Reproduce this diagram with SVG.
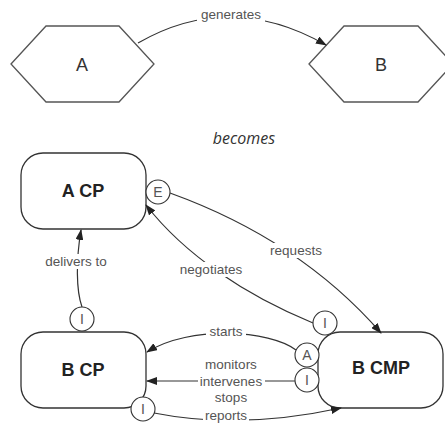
<svg xmlns="http://www.w3.org/2000/svg" width="445" height="423" viewBox="0 0 445 423">
<style>
.hex{fill:#fff;stroke:#555;stroke-width:1.3}
.box{fill:#fff;stroke:#333;stroke-width:1.3}
.conn{fill:none;stroke:#333;stroke-width:1.2}
.port{fill:#fff;stroke:#333;stroke-width:1.1}
.lbl{font-family:"Liberation Sans",Arial,sans-serif;font-size:13.5px;fill:#555;text-anchor:middle}
.plbl{font-family:"Liberation Sans",Arial,sans-serif;font-size:14px;fill:#555;text-anchor:middle}
.hlbl{font-family:"Liberation Sans",Arial,sans-serif;font-size:18px;fill:#333;text-anchor:middle}
.nlbl{font-family:"Liberation Sans",Arial,sans-serif;font-size:18px;font-weight:bold;fill:#222;text-anchor:middle}
.bg{fill:#fff}
</style>
<defs>
<marker id="arr" markerWidth="11" markerHeight="8" refX="10" refY="4" orient="auto" markerUnits="userSpaceOnUse">
<path d="M0,0 L11,4 L0,8 Z" fill="#222"/>
</marker>
</defs>

<g id="node-A">
<polygon class="hex" points="11,64 46,26 119,26 154,64 119,102 46,102"/>
<text class="hlbl" x="82" y="71">A</text>
</g>
<g id="node-B">
<polygon class="hex" points="309,64 344,26 418,26 453,64 418,102 344,102"/>
<text class="hlbl" x="381" y="71">B</text>
</g>

<text id="becomes" x="244" y="144" font-family="'Open Sans','DejaVu Sans',sans-serif" font-style="italic" font-size="16" fill="#333" text-anchor="middle">becomes</text>

<g id="node-ACP">
<rect class="box" x="21" y="153" width="125" height="76" rx="22"/>
<text class="nlbl" x="83" y="197">A CP</text>
</g>
<g id="node-BCP">
<rect class="box" x="21" y="332" width="125" height="76" rx="22"/>
<text class="nlbl" x="83" y="376">B CP</text>
</g>
<g id="node-BCMP">
<rect class="box" x="318" y="332" width="125" height="76" rx="22"/>
<text class="nlbl" x="381" y="374">B CMP</text>
</g>

<g id="connectors">
<path class="conn" d="M138,43 Q230,-10 326,45" marker-end="url(#arr)"/>
<rect class="bg" x="197" y="8" width="68" height="14"/>
<text class="lbl" x="231" y="19">generates</text>

<path class="conn" d="M170,193 Q300,240 381,333" marker-end="url(#arr)"/>
<rect class="bg" x="268" y="243" width="57" height="15"/>
<text class="lbl" x="296" y="255">requests</text>

<path class="conn" d="M313,323 C245,295 185,255 146,205" marker-end="url(#arr)"/>
<rect class="bg" x="178" y="262" width="67" height="15"/>
<text class="lbl" x="211" y="274">negotiates</text>

<path class="conn" d="M82,307 C76,290 76,260 81,230" marker-end="url(#arr)"/>
<rect class="bg" x="42" y="254" width="68" height="15"/>
<text class="lbl" x="76" y="266">delivers to</text>

<path class="conn" d="M296,350 C270,330 190,325 147,352" marker-end="url(#arr)"/>
<rect class="bg" x="206" y="324" width="40" height="14"/>
<text class="lbl" x="226" y="336">starts</text>

<path class="conn" d="M295,381 L147,381" marker-end="url(#arr)"/>
<text class="lbl" x="231" y="369">monitors</text>
<rect class="bg" x="198" y="374" width="67" height="14"/>
<text class="lbl" x="231" y="386">intervenes</text>
<text class="lbl" x="231" y="402">stops</text>

<path class="conn" d="M154,413 Q240,430 341,408" marker-end="url(#arr)"/>
<rect class="bg" x="203" y="410" width="46" height="13"/>
<text class="lbl" x="226" y="419.5" font-size="12">reports</text>
</g>

<g id="ports">
<circle class="port" cx="158" cy="192" r="12"/>
<text class="plbl" x="158" y="197">E</text>
<circle class="port" cx="82" cy="319" r="12"/>
<text class="plbl" x="82" y="324">I</text>
<circle class="port" cx="325" cy="323" r="12"/>
<text class="plbl" x="325" y="328">I</text>
<circle class="port" cx="307" cy="355" r="12"/>
<text class="plbl" x="307" y="360">A</text>
<circle class="port" cx="307" cy="380" r="12"/>
<text class="plbl" x="307" y="385">I</text>
<circle class="port" cx="143" cy="409" r="12"/>
<text class="plbl" x="143" y="414">I</text>
</g>
</svg>
